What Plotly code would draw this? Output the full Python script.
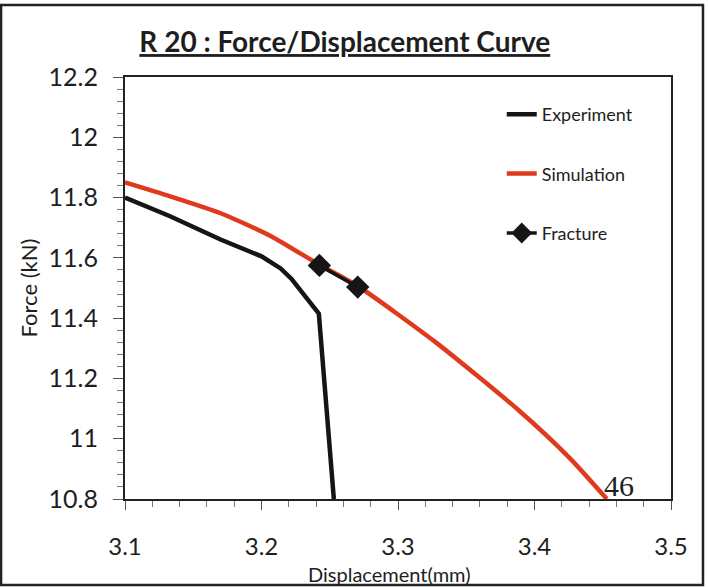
import plotly.graph_objects as go

exp_x = [3.100, 3.133, 3.170, 3.200, 3.214, 3.222, 3.242, 3.253]
exp_y = [11.80, 11.738, 11.661, 11.605, 11.565, 11.53, 11.415, 10.80]

sim_x = [3.100, 3.133, 3.170, 3.207, 3.242, 3.271, 3.327, 3.389, 3.426, 3.453]
sim_y = [11.85, 11.804, 11.748, 11.672, 11.578, 11.505, 11.322, 11.092, 10.935, 10.80]

frac_x = [3.2424, 3.2705]
frac_y = [11.575, 11.503]

x_ticks = [3.1, 3.2, 3.3, 3.4, 3.5]
y_ticks = [10.8, 11, 11.2, 11.4, 11.6, 11.8, 12, 12.2]
y_tick_text = ["10.8", "11", "11.2", "11.4", "11.6", "11.8", "12", "12.2"]

FONT = "Lato"
TXT = "#1e1e1e"

fig = go.Figure()
fig.add_trace(go.Scatter(x=exp_x, y=exp_y, mode="lines", name="Experiment",
                         line=dict(color="#151515", width=4.5), legendgroup="a"))
fig.add_trace(go.Scatter(x=sim_x, y=sim_y, mode="lines", name="Simulation",
                         line=dict(color="#e03a1e", width=4.5, shape="spline", smoothing=0.6),
                         legendgroup="b"))
fig.add_trace(go.Scatter(x=frac_x, y=frac_y, mode="lines+markers", name="Fracture",
                         line=dict(color="#151515", width=3.5),
                         marker=dict(symbol="diamond", size=18, color="#151515"),
                         legendgroup="c"))

fig.add_annotation(x=3.449, y=10.8, xref="x", yref="y", text="46", showarrow=False,
                   xanchor="left", yanchor="bottom", yshift=-5, xshift=1,
                   font=dict(family="Liberation Serif", size=30, color=TXT))

fig.add_annotation(x=0.485, y=-0.178, xref="paper", yref="paper", text="Displacement(mm)",
                   showarrow=False, xanchor="center", yanchor="middle",
                   font=dict(family=FONT, size=20, color=TXT))

fig.add_shape(type="rect", xref="paper", yref="paper",
              x0=-0.227, x1=1.0586, y0=-0.2038, y1=1.1706,
              line=dict(color="#222", width=2.5), layer="below")

fig.update_layout(
    width=708, height=587,
    margin=dict(l=125, r=37, t=77, b=88),
    paper_bgcolor="white", plot_bgcolor="white",
    title=dict(text="<u><b>R 20 : Force/Displacement Curve</b></u>", x=0.487, xanchor="center",
               y=0.928, yanchor="middle",
               font=dict(family=FONT, size=28, color=TXT)),
    showlegend=True,
    legend=dict(x=0.69, y=0.955, xanchor="left", yanchor="top",
                bgcolor="rgba(0,0,0,0)", tracegroupgap=33,
                font=dict(family=FONT, size=18, color=TXT)),
    font=dict(family=FONT, color=TXT),
)

fig.update_xaxes(range=[3.1, 3.5], tickvals=x_ticks, ticktext=[str(v) for v in x_ticks],
                 ticks="outside", ticklen=9, tickwidth=1, tickcolor="#555",
                 minor=dict(dtick=0.02, ticks="outside", ticklen=6, tickcolor="#777", tickwidth=1),
                 showline=True, linecolor="#222", linewidth=2, mirror=True,
                 showgrid=False, zeroline=False,
                 tickfont=dict(family=FONT, size=24, color=TXT),
                 ticklabelstandoff=16)
fig.update_yaxes(range=[10.8, 12.2], tickvals=y_ticks, ticktext=y_tick_text,
                 ticks="outside", ticklen=10, tickwidth=1, tickcolor="#555",
                 minor=dict(dtick=0.04, ticks="outside", ticklen=6, tickcolor="#777", tickwidth=1),
                 showline=True, linecolor="#222", linewidth=2, mirror=True,
                 showgrid=False, zeroline=False,
                 tickfont=dict(family=FONT, size=25, color=TXT),
                 ticklabelstandoff=10,
                 title=dict(text="Force (kN)", standoff=5,
                            font=dict(family=FONT, size=22, color=TXT)))

fig.write_html("out.html")
